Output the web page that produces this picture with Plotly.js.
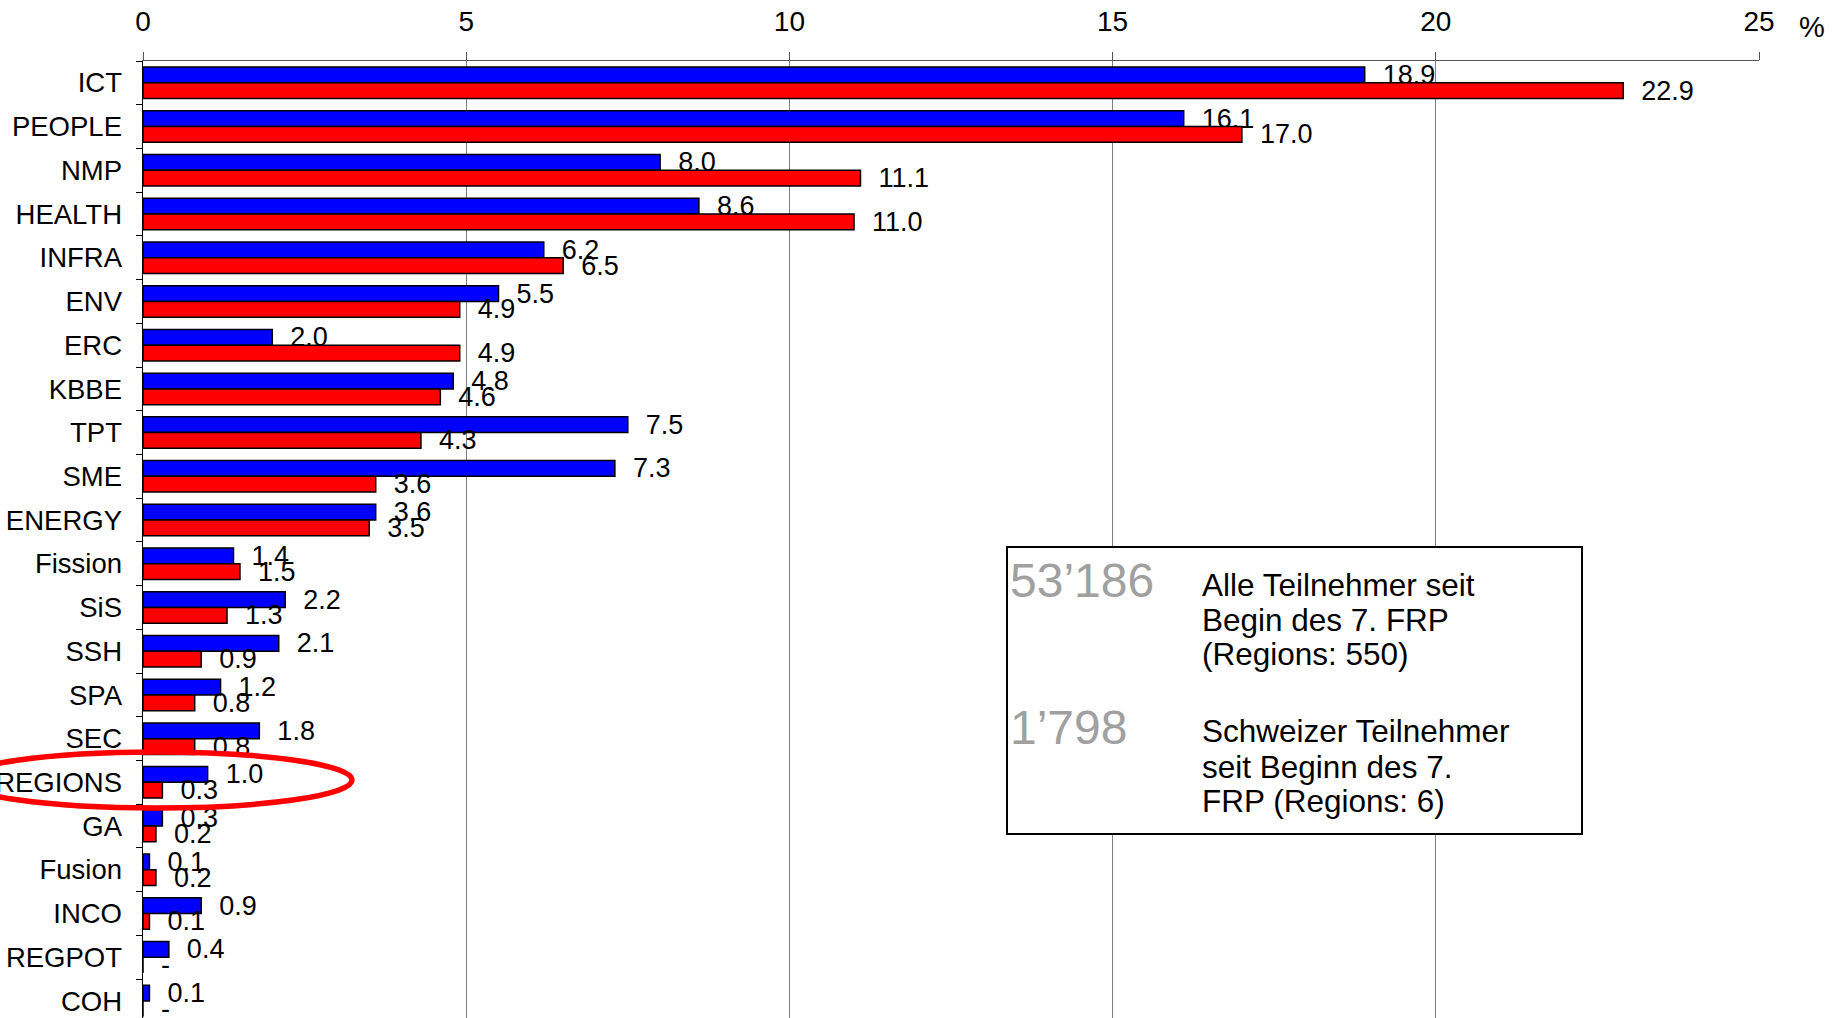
<!DOCTYPE html>
<html>
<head>
<meta charset="utf-8">
<script src="https://cdn.plot.ly/plotly-3.0.1.min.js"></script>
<style>html,body{margin:0;padding:0;background:#fff;overflow:hidden}#chart{width:1841px;height:1018px}</style>
</head>
<body>
<div id="chart"></div>
<script>
var categories = ["ICT","PEOPLE","NMP","HEALTH","INFRA","ENV","ERC","KBBE","TPT","SME","ENERGY","Fission","SiS","SSH","SPA","SEC","REGIONS","GA","Fusion","INCO","REGPOT","COH"];
var allParticipants = [18.9,16.1,8.0,8.6,6.2,5.5,2.0,4.8,7.5,7.3,3.6,1.4,2.2,2.1,1.2,1.8,1.0,0.3,0.1,0.9,0.4,0.1];
var swissParticipants = [22.9,17.0,11.1,11.0,6.5,4.9,4.9,4.6,4.3,3.6,3.5,1.5,1.3,0.9,0.8,0.8,0.3,0.2,0.2,0.1,0,0];
var xTicks = [0,5,10,15,20,25];
var totalAll = "53’186";
var totalSwiss = "1’798";
var noteAll = ["Alle Teilnehmer seit","Begin des 7. FRP","(Regions: 550)"];
var noteSwiss = ["Schweizer Teilnehmer","seit Beginn des 7.","FRP (Regions: 6)"];

var FONT = "Liberation Sans, Arial, sans-serif";
var PAD = "\u00a0\u00a0";
function labels(arr){ return arr.map(function(v){ return PAD + (v === 0 ? "-" : v.toFixed(1)); }); }

function barTrace(vals, color, name){
  return {
    type: "bar", orientation: "h", name: name,
    y: categories, x: vals,
    marker: {color: color, line: {color: "#000", width: 1.5}},
    text: labels(vals), textposition: "outside", constraintext: "none",
    cliponaxis: false,
    textfont: {family: FONT, size: 27, color: "#000"},
    hoverinfo: "x+y"
  };
}

var data = [
  barTrace(allParticipants, "#0000FF", "Alle Teilnehmer"),
  barTrace(swissParticipants, "#FF0000", "Schweizer Teilnehmer")
];

var L = 143, R = 1759, T = 61, B = 1018, W = R - L, H = B - T;
function px(x){ return (x - L) / W; }
function py(y){ return (B - y) / H; }

var annotations = [
  {xref:"paper", yref:"paper", x:px(1812), y:py(27), text:"%", showarrow:false, xanchor:"center", yanchor:"middle", font:{family:FONT, size:29, color:"#000"}},
  {xref:"paper", yref:"paper", x:px(1008), y:py(580), text:totalAll, showarrow:false, xanchor:"left", yanchor:"middle", font:{family:FONT, size:48, color:"#A0A0A0"}},
  {xref:"paper", yref:"paper", x:px(1008), y:py(727), text:totalSwiss, showarrow:false, xanchor:"left", yanchor:"middle", font:{family:FONT, size:48, color:"#A0A0A0"}}
];
var yAll = [585, 620, 654], ySwiss = [731, 767, 801];
noteAll.forEach(function(t,i){ annotations.push({xref:"paper", yref:"paper", x:px(1200), y:py(yAll[i]), text:t, showarrow:false, xanchor:"left", yanchor:"middle", font:{family:FONT, size:31.5, color:"#000"}}); });
noteSwiss.forEach(function(t,i){ annotations.push({xref:"paper", yref:"paper", x:px(1200), y:py(ySwiss[i]), text:t, showarrow:false, xanchor:"left", yanchor:"middle", font:{family:FONT, size:31.5, color:"#000"}}); });

var shapes = [
  {type:"rect", xref:"paper", yref:"paper", x0:px(1007), x1:px(1582), y0:py(547), y1:py(834), line:{color:"#000", width:2}, fillcolor:"#fff", layer:"above"},
  {type:"circle", xref:"paper", yref:"paper", x0:px(-40), x1:px(352), y0:py(752), y1:py(808), line:{color:"#FF0000", width:5.5}, layer:"above"}
];

var layout = {
  width: 1841, height: 1018,
  margin: {l: L, r: 1841 - R, t: T, b: 0, pad: 0},
  paper_bgcolor: "#fff", plot_bgcolor: "#fff",
  showlegend: false,
  barmode: "group", bargap: 0.28, bargroupgap: 0,
  font: {family: FONT, size: 27, color: "#000"},
  xaxis: {
    side: "top", range: [0, 25], tickvals: xTicks, ticktext: xTicks.map(String),
    showgrid: true, gridcolor: "#7f7f7f", gridwidth: 1, zeroline: false,
    showline: true, linecolor: "#555", linewidth: 1.5,
    ticks: "outside", ticklen: 8, tickcolor: "#555", tickwidth: 1,
    tickfont: {family: FONT, size: 28, color: "#000"}, ticklabelstandoff: 9,
    fixedrange: true
  },
  yaxis: {
    type: "category", range: [21.39, -0.5], autorange: false,
    showgrid: false, zeroline: false,
    showline: true, linecolor: "#000", linewidth: 1.5,
    ticks: "outside", tickson: "boundaries", ticklen: 6, tickcolor: "#000",
    tickfont: {family: FONT, size: 27.5, color: "#000"}, ticklabelstandoff: 14,
    fixedrange: true
  },
  annotations: annotations,
  shapes: shapes
};

Plotly.newPlot("chart", data, layout, {displayModeBar: false, staticPlot: true});
</script>
</body>
</html>
